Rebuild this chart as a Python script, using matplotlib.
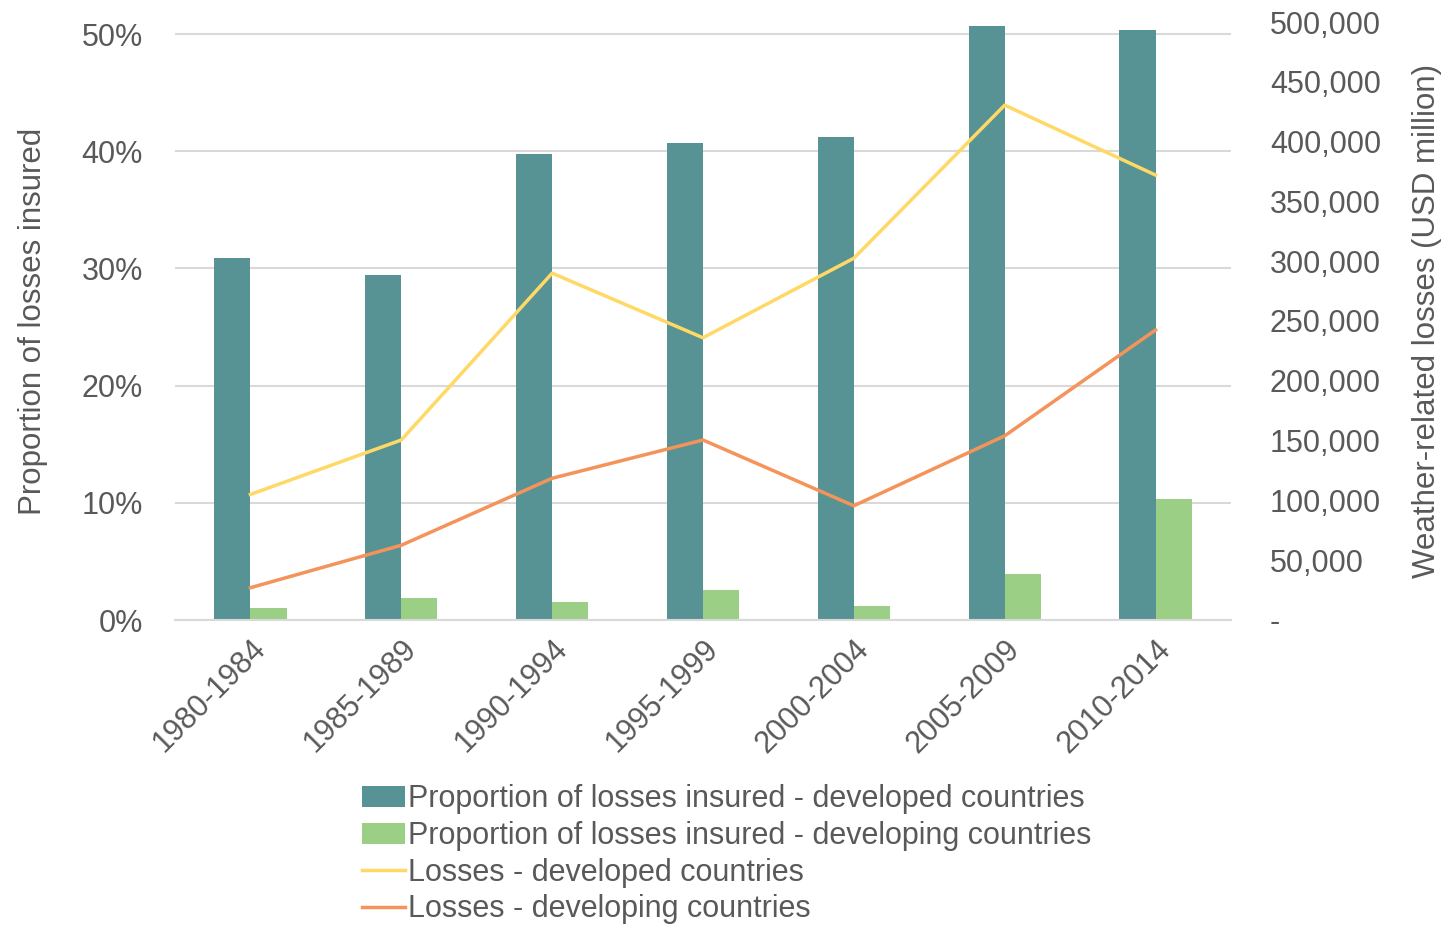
import numpy as np
import matplotlib
matplotlib.use('Agg')
import matplotlib.pyplot as plt
from matplotlib.ticker import FuncFormatter

plt.rcParams['font.family'] = ['Liberation Sans', 'DejaVu Sans']

periods = ['1980-1984', '1985-1989', '1990-1994', '1995-1999', '2000-2004', '2005-2009', '2010-2014']
insured_developed = [30.9, 29.4, 39.8, 40.7, 41.2, 50.7, 50.3]
insured_developing = [1.0, 1.9, 1.5, 2.6, 1.2, 3.9, 10.3]
losses_developed = [105000, 150500, 290000, 236000, 302500, 430500, 372000]
losses_developing = [27000, 62500, 118500, 150500, 95500, 154000, 242500]

teal = '#579394'
green = '#9ccf86'
yellow = '#ffd966'
orange = '#f4935a'
grey_txt = '#595959'

fig = plt.figure(figsize=(14.43, 9.26), dpi=100)
ax = fig.add_axes([175 / 1443, 1 - 620 / 926, (1231 - 175) / 1443, (620 - 22) / 926])
ax2 = ax.twinx()

x = np.arange(len(periods))
w = 0.24
ax.bar(x - w / 2, insured_developed, w, color=teal, label='Proportion of losses insured - developed countries', zorder=2)
ax.bar(x + w / 2, insured_developing, w, color=green, label='Proportion of losses insured - developing countries', zorder=2)
l1, = ax2.plot(x, losses_developed, color=yellow, lw=2.5, label='Losses - developed countries')
l2, = ax2.plot(x, losses_developing, color=orange, lw=2.5, label='Losses - developing countries')

ax.set_xlim(-0.5, len(periods) - 0.5)
ax.set_ylim(0, 50 * 598 / 586)
ax.set_yticks([0, 10, 20, 30, 40, 50])
ax.yaxis.set_major_formatter(FuncFormatter(lambda v, p: f'{v:.0f}%'))
ax.grid(axis='y', color='#d9d9d9', lw=1.5, zorder=0)
ax.set_axisbelow(True)

ax2.set_ylim(0, 500000)
ax2.set_yticks(range(0, 500001, 50000))
ax2.yaxis.set_major_formatter(FuncFormatter(lambda v, p: '-' if v == 0 else f'{v:,.0f}'))

for a in (ax, ax2):
    for s in a.spines.values():
        s.set_visible(False)
    a.tick_params(length=0, labelsize=22, colors=grey_txt)
ax.spines['bottom'].set_visible(True)
ax.spines['bottom'].set_color('#d9d9d9')
ax.spines['bottom'].set_linewidth(1.5)
ax.tick_params(axis='y', pad=23)
ax2.tick_params(axis='y', pad=28)

ax.set_xticks(x)
ax.set_xticklabels(periods, rotation=45, ha='right', rotation_mode='anchor')
ax.tick_params(axis='x', pad=10)

ax.set_ylabel('Proportion of losses insured', fontsize=22.5, color=grey_txt, labelpad=24)
ax2.set_ylabel('Weather-related losses (USD million)', fontsize=22.5, color=grey_txt, labelpad=22)

handles = ax.get_legend_handles_labels()[0] + [l1, l2]
labels = [h.get_label() for h in handles]
fig.legend(handles, labels, loc='upper left', bbox_to_anchor=(347 / 1443, 1 - 769 / 926),
           frameon=False, fontsize=22, handlelength=1.4, handletextpad=0.1,
           labelspacing=0.22, borderpad=0, labelcolor=grey_txt)

fig.savefig('out.png', dpi=100)
